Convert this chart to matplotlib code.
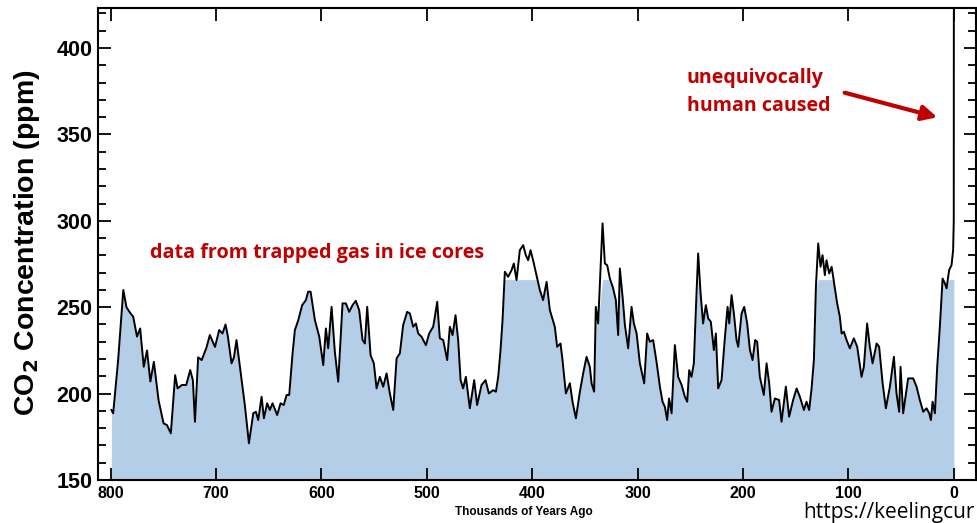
import matplotlib
matplotlib.use("Agg")
import matplotlib.pyplot as plt
import numpy as np

# Thousands of years ago
kya = [799.3, 797.6, 795, 792.9, 788, 785, 781.8, 778.6, 775, 772, 768.6, 765.5, 762.3, 759,
       754.5, 749.8, 746.6, 742.9, 738.8, 736.5, 732.4, 728.3, 724.5, 722, 720, 717, 713.6,
       708.9, 705.9, 701, 697, 693.9, 691, 689, 685.3, 683, 680.6, 677.3, 672.7, 668.8, 664.7,
       662.2, 660, 656.8, 654.6, 651.5, 649, 646.4, 642, 638.8, 635.7, 633.1, 630.6, 627.4,
       625.2, 622, 618.3, 614.8, 612.6, 610.3, 606.2, 602.1, 598.3, 595.8, 593.6, 590.4, 587.3,
       584.1, 580, 576.8, 573.7, 570.5, 567.4, 564.2, 561, 558.8, 556.6, 553.4, 550.3, 547.7,
       544.6, 541.4, 538.2, 535.1, 531.9, 528.7, 525.6, 522.5, 518.7, 516.1, 513, 510.4, 508.2,
       505, 500.9, 497.8, 494, 492.4, 490.2, 487.7, 484.5, 480.7, 478.2, 475.6, 472.8, 470.3,
       468, 465.6, 463, 459.2, 455.1, 452.3, 448.1, 444.3, 441.2, 437.1, 434.5, 432.3, 430.1,
       428.2, 426, 422.9, 419.6, 417.5, 414.9, 411.8, 408.6, 406.1, 403.9, 401.6, 398.5, 395.3,
       392.8, 389.7, 386.4, 383.3, 378.6, 376.4, 373.2, 371.3, 368.1, 364.3, 361.8, 358.6,
       354.8, 351.7, 348.5, 345.4, 343.7, 341.3, 339.7, 337.5, 333.3, 331.1, 328.9, 326.4,
       323.5, 320.7, 318.5, 316.9, 314.3, 312.1, 309, 305.8, 303.6, 301, 297.9, 293.8, 291,
       288.4, 285.3, 282.1, 278.9, 276.4, 274.2, 272, 270.2, 267.8, 264.7, 261.6, 258.3, 255.2,
       253, 251.1, 248.9, 246.7, 244.8, 242.6, 240.3, 237.9, 235.3, 233.1, 230.6, 227.7, 225.8,
       223.6, 220.4, 217.3, 214.7, 213.1, 210.9, 208.7, 206.2, 204.6, 201.4, 198.9, 196.1,
       193.5, 191, 188.5, 186.6, 184.1, 180.3, 177.7, 175.2, 173, 169.8, 165.8, 163.5, 159.4,
       156.3, 152.5, 149.2, 146.1, 142.3, 139.8, 137.3, 135, 132.8, 130.9, 128.7, 126.5, 124.6,
       122.4, 120.8, 118.3, 116, 114.5, 112.9, 110.7, 108.2, 106.5, 104.4, 101.8, 98.7, 94.9,
       91.7, 87.6, 85.4, 82.3, 79.7, 77.1, 73.3, 70.9, 67.6, 64.5, 60.7, 56.9, 54.4, 51.9,
       50.6, 48.1, 43.4, 38.6, 35.4, 32.3, 29.1, 25.9, 23.4, 21.8, 20.2, 18, 15.8, 13.3, 10.7,
       8.5, 6.9, 4.5, 2.2, 0.7, 0.1, 0.0]
co2 = [190.5, 188.6, 206, 219.4, 260, 250, 247, 244.5, 233, 237.7, 215.5, 225, 207, 218.4,
       196, 182.8, 181.8, 177, 210.7, 203, 205, 205, 213.6, 207.8, 183.7, 221, 219.4,
       227, 233.9, 227, 236.8, 234.8, 240, 233.9, 217.5, 221, 231, 215.5, 193.4, 171.2, 188.6,
       189.5, 184.7, 198.2, 185.7, 194.4, 190.5, 194.4, 187.6, 194.4, 193.4, 199.2, 199.2, 223.3,
       236.8, 242.5, 251.2, 254.1, 259, 259, 242.5, 233, 216.5, 237.7, 226.2, 250.2, 224.2,
       206.9, 252.2, 252.2, 247.3, 251.2, 253.7, 248.3, 231, 229, 250.2, 222.3, 217.5, 203,
       209.7, 204, 211.7, 200.1, 190.5, 220.4, 223.3, 239.6, 247.3, 246.4, 238.7, 240.6, 234.8,
       232.9, 228, 234.8, 238.7, 244.5, 253.1, 232, 231, 219.4, 238.7, 233.9, 245.4, 231,
       207.8, 203, 209.7, 191.5, 207.8, 193.4, 205, 207.8, 200.1, 202, 201.1, 209.7, 225.2,
       242.5, 270.5, 267.6, 271.5, 275.3, 265.7, 283, 285.9, 280.1, 277.2, 283, 275.3, 266.6,
       259.9, 254.1, 264.7, 248.3, 238.7, 227.1, 229, 219.4, 200.1, 206, 195.3, 185.7,
       201.1, 211.7, 221.3, 215.5, 205.9, 201.1, 250.2, 240.6, 298.5, 275.3, 274.3, 266.6,
       261.5, 254.1, 233.9, 272.4, 256, 239.6, 226.2, 250.2, 240.6, 234.8, 217.5, 205.9, 234.8,
       230, 231, 218.4, 204, 195.3, 192.4, 184.7, 197.2, 188.6, 228.1, 209.7, 205, 198.2,
       195.3, 213.6, 209.7, 217.5, 248.3, 281.1, 258, 240.6, 251.2, 243.5, 241.6, 225.2, 234.8,
       203, 207.8, 232, 250.2, 240.6, 257, 246.4, 231, 227.1, 246.4, 250.2, 240.6,
       225.2, 219.4, 231, 230, 209.7, 199.2, 217.5, 205.9, 189.5, 197.2, 196.3, 183.7, 204,
       186.6, 196.3, 203, 198.2, 190.5, 195.3, 190.5, 203, 219.4, 261.8, 286.9, 273.4, 280.1,
       268.6, 277.2, 269.5, 273.4, 267.6, 260.9, 252.2, 244.5, 234.8, 235.8, 231, 226.2, 232,
       227.1, 209.7, 215.5, 240.6, 227.1, 217.5, 229, 227.1, 206, 191.5, 204, 221.3, 200.1, 189.5,
       215.5, 188.6, 208.8, 208.8, 204, 196.3, 189.5, 191.5, 188.6, 184.7, 195.3, 188.6, 215.5,
       238.7, 266.6, 263.8, 260.9, 271.5, 274.4, 283, 300, 440]

fill_cap = 266
x_ticks = [800, 700, 600, 500, 400, 300, 200, 100, 0]
y_ticks = [150, 200, 250, 300, 350, 400]

plt.rcParams['font.family'] = ['Liberation Sans', 'DejaVu Sans']
plt.rcParams['font.weight'] = 'bold'

fig = plt.figure(figsize=(9.77, 5.23), dpi=100)
ax = fig.add_axes([98/977, 43/523, (976-98)/977, (480-8.3)/523])

x = np.array(kya)
y = np.array(co2)
ax.fill_between(x, 150, np.minimum(y, fill_cap), color='#b5cee8', lw=0, zorder=1)
ax.plot(x, y, color='black', lw=1.4, zorder=2)

ax.set_xlim(812, -21)
ax.set_ylim(150, 423)
ax.set_xticks(x_ticks)
ax.set_yticks(y_ticks)
ax.set_yticks(np.arange(160, 423, 10), minor=True)
ax.tick_params(axis='both', which='both', direction='in', top=True, right=True,
               width=1.3, colors='black')
ax.tick_params(axis='both', which='major', length=9)
ax.tick_params(axis='y', which='minor', length=6)
ax.tick_params(axis='x', which='major', pad=4, labelsize=11.5)
ax.tick_params(axis='y', which='major', pad=4, labelsize=15.5)
for s in ax.spines.values():
    s.set_linewidth(1.5)

fig.text(27/977, 1 - 243/523, 'CO$_\\mathbf{2}$ Concentration (ppm)', rotation=90,
         ha='center', va='center', fontsize=20.5, fontweight='bold')
fig.text(524/977, 1 - 512/523, 'Thousands of Years Ago', ha='center', va='center',
         fontsize=8.5, fontweight='bold')

red = '#c00000'
fig.text(150/977, 1 - 253/523, 'data from trapped gas in ice cores',
         ha='left', va='center', color=red, fontsize=14.2, fontweight='bold', family='Open Sans')
fig.text(687/977, 1 - 92/523, 'unequivocally\nhuman caused',
         ha='left', va='center', color=red, fontsize=14.1, fontweight='bold', family='Open Sans',
         linespacing=1.5)
ax.annotate('', xy=(940/977, 1 - 118/523), xytext=(842/977, 1 - 92/523),
            xycoords='figure fraction', textcoords='figure fraction',
            arrowprops=dict(arrowstyle='-|>,head_length=0.9,head_width=0.45', color=red, lw=3))

fig.text(803/977, 1 - 512.5/523, 'https://keelingcur', ha='left', va='center',
         fontsize=15, family='Open Sans', fontweight='normal', color='black')

fig.savefig('out.png', dpi=100)
